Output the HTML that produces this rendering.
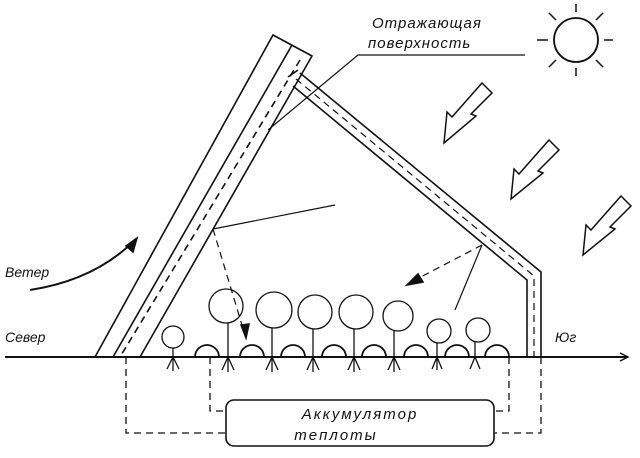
<!DOCTYPE html>
<html><head><meta charset="utf-8"><style>body{margin:0;background:#fff}svg{display:block}</style></head><body>
<svg width="640" height="458" viewBox="0 0 640 458" xmlns="http://www.w3.org/2000/svg" fill="none" stroke="#111" stroke-width="1.6" font-family="Liberation Sans, sans-serif">
<!-- ground -->
<line x1="5" y1="357" x2="628" y2="357" stroke-width="2"/>
<path d="M620,353 L628,357 L620,361" stroke-width="1.5"/>
<!-- tilted panel -->
<path d="M95,357 L273,35 L312,56 L140,357"/>
<line x1="292" y1="45" x2="113" y2="357"/>
<line x1="300" y1="60" x2="120" y2="357" stroke-dasharray="7,5"/>
<!-- roof -->
<path d="M300,73 L541,272 L541,357"/>
<path d="M293,86 L527,280 L527,357"/>
<path d="M296,79 L534,276 L534,357" stroke-dasharray="7,5" stroke-width="1.2"/>
<path d="M288,77 L298,70"/>
<!-- label -->
<text x="372" y="28" font-size="15" font-style="italic" fill="#111" stroke="none" letter-spacing="1">Отражающая</text>
<text x="368" y="48" font-size="15" font-style="italic" fill="#111" stroke="none" letter-spacing="1">поверхность</text>
<path d="M525,55 L358,55 L268,130" stroke-width="1.2"/>
<!-- sun -->
<circle cx="576" cy="40" r="22" stroke-width="1.8"/>
<g stroke-width="1.5">
<line x1="576" y1="12" x2="576" y2="4"/><line x1="576" y1="68" x2="576" y2="76"/>
<line x1="548" y1="40" x2="537" y2="40"/><line x1="604" y1="40" x2="613" y2="40"/>
<line x1="556" y1="20" x2="549" y2="13"/><line x1="596" y1="20" x2="603" y2="13"/>
<line x1="556" y1="60" x2="549" y2="67"/><line x1="596" y1="60" x2="603" y2="67"/>
</g>
<!-- sun arrows -->
<g stroke-width="1.5">
<path d="M482,83 L492,93 L471,114 L476,116 L444,143 L447,112 L452,117 Z"/>
<path d="M549,140 L559,150 L538,171 L543,173 L511,199 L514,169 L519,174 Z"/>
<path d="M621,196 L631,206 L610,227 L615,229 L583,255 L586,225 L591,230 Z"/>
</g>
<!-- wind -->
<text x="5" y="277" font-size="14" font-style="italic" fill="#111" stroke="none">Ветер</text>
<path d="M30,290 Q95,280 135,240" stroke-width="2"/>
<path d="M126,246 L137,238 L133,252 Z" fill="#111"/>
<text x="5" y="342" font-size="14" font-style="italic" fill="#111" stroke="none">Север</text>
<text x="555" y="342" font-size="14" font-style="italic" fill="#111" stroke="none">Юг</text>
<!-- rays inside -->
<line x1="213" y1="229" x2="335" y2="205" stroke-width="1.2"/>
<line x1="213" y1="229" x2="245" y2="335" stroke-dasharray="7,5" stroke-width="1.2"/>
<path d="M241,325 L246,338 L249,324 Z" fill="#111"/>
<line x1="482" y1="245" x2="415" y2="280" stroke-dasharray="7,5" stroke-width="1.2"/>
<path d="M418,274 L407,285 L423,282 Z" fill="#111"/>
<line x1="482" y1="245" x2="455" y2="310" stroke-width="1.2"/>
<!-- humps -->
<g stroke-width="1.8">
<path d="M195,357 A12,12 0 0 1 219,357"/><path d="M240,357 A12,12 0 0 1 264,357"/>
<path d="M281,357 A12,12 0 0 1 305,357"/><path d="M322,357 A12,12 0 0 1 346,357"/>
<path d="M362,357 A12,12 0 0 1 386,357"/><path d="M404,357 A12,12 0 0 1 428,357"/>
<path d="M445,357 A12,12 0 0 1 469,357"/><path d="M485,357 A12,12 0 0 1 509,357"/>
</g>
<!-- plants -->
<g stroke-width="1.3">
<g><circle cx="173" cy="337" r="11"/><line x1="173" y1="348" x2="173" y2="357"/><path d="M173,357 l-6,12 M173,357 l6,12 M173,357 l0,14"/></g>
<g><circle cx="226" cy="306" r="17"/><line x1="228" y1="323" x2="228" y2="357"/><path d="M228,357 l-6,13 M228,357 l6,13 M228,357 l0,15"/></g>
<g><circle cx="274" cy="310" r="18"/><line x1="272" y1="328" x2="272" y2="357"/><path d="M272,357 l-6,13 M272,357 l6,13 M272,357 l0,15"/></g>
<g><circle cx="315" cy="312" r="17"/><line x1="313" y1="329" x2="313" y2="357"/><path d="M313,357 l-6,13 M313,357 l6,13 M313,357 l0,15"/></g>
<g><circle cx="356" cy="312" r="17"/><line x1="354" y1="329" x2="354" y2="357"/><path d="M354,357 l-6,13 M354,357 l6,13 M354,357 l0,15"/></g>
<g><circle cx="398" cy="316" r="15"/><line x1="394" y1="331" x2="394" y2="357"/><path d="M394,357 l-6,13 M394,357 l6,13 M394,357 l0,15"/></g>
<g><circle cx="439" cy="331" r="12"/><line x1="437" y1="343" x2="437" y2="357"/><path d="M437,357 l-5,12 M437,357 l5,12 M437,357 l0,13"/></g>
<g><circle cx="478" cy="330" r="12"/><line x1="475" y1="342" x2="475" y2="357"/><path d="M475,357 l-5,12 M475,357 l5,12"/></g>
</g>
<!-- accumulator -->
<rect x="226" y="400" width="268" height="46" rx="8" stroke-width="1.6"/>
<text x="360" y="419" font-size="15" font-style="italic" fill="#111" stroke="none" text-anchor="middle" letter-spacing="2">Аккумулятор</text>
<text x="336" y="440" font-size="15" font-style="italic" fill="#111" stroke="none" text-anchor="middle" letter-spacing="2">теплоты</text>
<g stroke-dasharray="7,5" stroke-width="1.3">
<path d="M126,357 L126,433 L226,433"/>
<path d="M210,357 L210,411 L226,411"/>
<path d="M509,357 L509,411 L494,411"/>
<path d="M541,357 L541,433 L494,433"/>
</g>
</svg>
</body></html>
